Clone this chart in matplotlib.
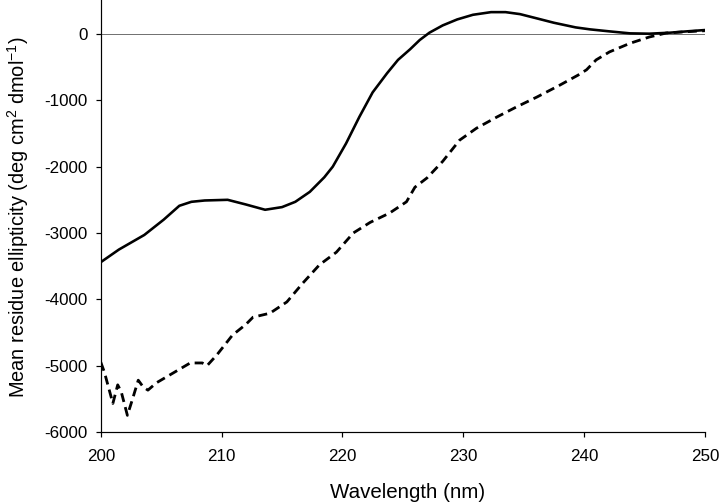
import numpy as np
import matplotlib.pyplot as plt

plt.rcParams.update({
    "font.family": ["Liberation Sans", "DejaVu Sans"],
    "font.size": 17,
    "axes.unicode_minus": False,
    "mathtext.fontset": "custom",
    "mathtext.rm": "Liberation Sans",
    "mathtext.it": "Liberation Sans:italic",
})

# Solid trace
solid_nm = [200.0, 201.5, 203.6, 205.2, 206.5, 207.5, 208.6, 210.5, 212.0, 213.6,
            215.0, 216.1, 217.3, 218.5, 219.2, 220.3, 221.4, 222.5, 223.7, 224.6,
            225.6, 226.4, 227.2, 228.3, 229.5, 230.8, 232.3, 233.5, 234.7, 236.0,
            237.5, 239.3, 240.5, 242.1, 243.8, 245.4, 247.1, 248.5, 250.0]
solid_val = [-3440, -3250, -3030, -2800, -2590, -2530, -2510, -2500, -2570, -2650,
             -2610, -2530, -2380, -2160, -2000, -1650, -1250, -880, -590, -390,
             -230, -90, 20, 130, 220, 290, 330, 330, 300, 240,
             170, 100, 70, 40, 10, 5, 20, 40, 60]

# Dashed trace
dash_nm = [200.0, 200.3, 201.0, 201.4, 201.7, 202.2, 202.6, 203.1, 203.5, 203.9,
           204.6, 206.0, 207.4, 208.4, 208.8, 209.6, 210.9, 212.0, 212.6, 214.0,
           215.4, 216.7, 218.1, 219.5, 220.9, 222.3, 223.9, 225.3, 226.0, 227.0,
           228.3, 229.7, 231.1, 232.8, 234.4, 236.1, 238.0, 239.5, 240.2, 241.0,
           242.1, 243.8, 245.4, 246.8, 248.5, 250.0]
dash_val = [-4950, -5100, -5570, -5290, -5400, -5750, -5520, -5220, -5320, -5370,
            -5260, -5110, -4960, -4960, -5000, -4840, -4540, -4380, -4270, -4210,
            -4040, -3760, -3480, -3290, -3000, -2840, -2700, -2530, -2310, -2170,
            -1920, -1600, -1420, -1250, -1100, -950, -770, -620, -540, -390,
            -270, -140, -45, 15, 35, 50]

fig = plt.figure(figsize=(10, 7), dpi=72)
ax = fig.add_axes([0.140, 0.143, 0.839, 0.857])

ax.axhline(0, color="0.45", lw=1.0, zorder=1)
ax.plot(solid_nm, solid_val, color="black", lw=2.6, solid_capstyle="round", zorder=3)
ax.plot(dash_nm, dash_val, color="black", lw=2.8, linestyle=(0, (3.2, 1.9)), zorder=3)

ax.set_xlim(200, 250)
ax.set_ylim(-6000, 513)
ax.set_xticks(np.arange(200, 251, 10))
ax.set_yticks(np.arange(-6000, 1, 1000))

for side in ("top", "right"):
    ax.spines[side].set_visible(False)
for side in ("left", "bottom"):
    ax.spines[side].set_linewidth(1.2)

ax.tick_params(direction="out", length=5, width=1.2, labelsize=17)
ax.tick_params(axis="x", pad=12)
ax.tick_params(axis="y", pad=8)
ax.set_xlabel("Wavelength (nm)", fontsize=20.5)
ax.set_ylabel("Mean residue ellipticity (deg cm$^{2}$ dmol$^{-1}$)", fontsize=20)
ax.xaxis.set_label_coords(0.508, -0.118)
ax.yaxis.set_label_coords(-0.115, 0.498)

plt.savefig("out.png", dpi=72)
